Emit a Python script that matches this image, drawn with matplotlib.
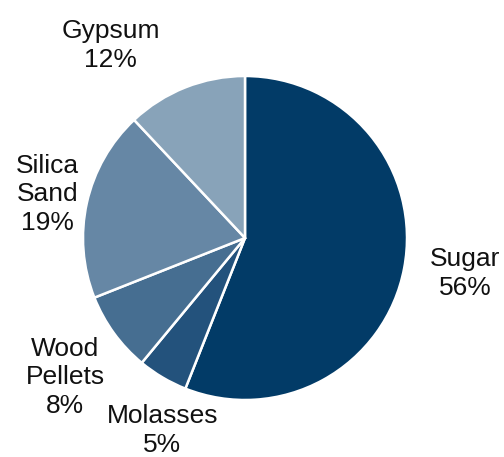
"""Product mix pie chart."""
import matplotlib
import numpy as np

matplotlib.use("Agg")
from matplotlib import pyplot as plt

plt.rcParams["font.family"] = ["Liberation Sans", "DejaVu Sans"]

products = ["Sugar", "Molasses", "Wood\nPellets", "Silica\nSand", "Gypsum"]
shares = [56, 5, 8, 19, 12]
colors = ["#023b67", "#23527c", "#466e91", "#6687a5", "#88a3b9"]

# label centres in pie-radius units, measured from the pie centre
label_xy = [(1.36, -0.22), (-0.51, -1.19), (-1.11, -0.86), (-1.22, 0.27), (-0.83, 1.19)]

fig = plt.figure(figsize=(5.04, 4.57), dpi=100)
ax = fig.add_axes([0, 0, 1, 1])

ax.pie(
    shares,
    colors=colors,
    startangle=90,
    counterclock=False,
    radius=1.0,
    wedgeprops={"edgecolor": "white", "linewidth": 1.8},
)

for name, share, (x, y) in zip(products, shares, label_xy):
    ax.text(x, y, f"{name}\n{share}%", ha="center", va="center",
            fontsize=19, color="#111111", linespacing=1.25)

r_px = 162.0
ax.set_xlim(-245 / r_px, (504 - 245) / r_px)
ax.set_ylim((238 - 457) / r_px, 238 / r_px)
ax.set_aspect("equal")
ax.axis("off")

fig.savefig("out.png")
plt.close(fig)
